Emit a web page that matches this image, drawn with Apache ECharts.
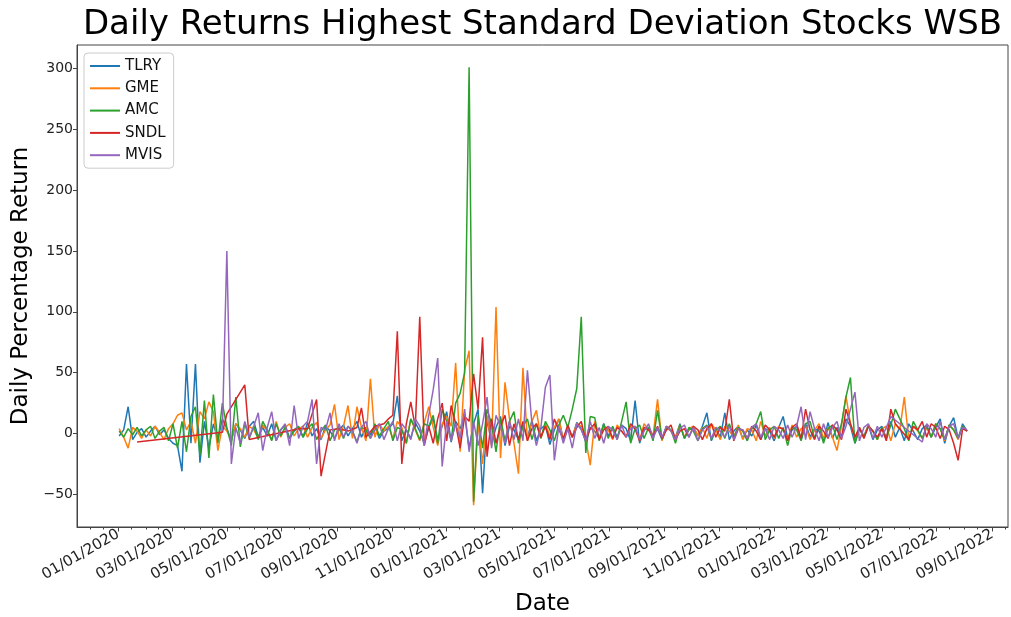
<!DOCTYPE html>
<html>
<head>
<meta charset="utf-8">
<script src="https://cdn.jsdelivr.net/npm/echarts@6/dist/echarts.min.js"></script>
<style>html,body{margin:0;padding:0;background:#fff}#c{width:1011px;height:617px}</style>
</head>
<body>
<div id="c"></div>
<script>
// ---- data ----
// regular sampling grid: one sample every 5 days starting 2020-01-02
const startDate = Date.UTC(2020, 0, 2);
const stepDays = 5;

const seriesNames = ['TLRY', 'GME', 'AMC', 'SNDL', 'MVIS'];
const seriesColors = ['#1f77b4', '#ff7f0e', '#2ca02c', '#d62728', '#9467bd'];

const tlry = [
  -2, 3, 22, -5, 1, 4, -3, 2, 6, -1,
  3, -4, -8, -10, -31, 57, -8, 57, -24, 10,
  -12, 8, -5, 12, 4, -6, 8, 3, -4, 6,
  10, -3, 5, -2, 8, -6, 3, 7, -4, 2,
  5, -3, 9, -2, 4, -5, 6, 2, -4, 3,
  7, -2, 4, 10, -3, 5, -1, 6, -4, 2,
  4, 8, 31, -6, 3, -4, 9, 2, -8, 5,
  12, -5, 6, 18, -7, 10, 4, 15, -12, 8,
  20, -49, 12, -8, 5, 14, -10, 6, 3, -5,
  8, -4, 11, -6, 4, 7, -9, 3, 12, -5,
  6, -3, 9, 4, -7, 5, 2, -4, 8, -2,
  5, -3, 7, 4, -6, 27, -8, 3, 5, -2,
  4, -5, 6, 2, -3, 8, -4, 3, 5, -2,
  6, 17, -6, 4, -3, 17, -5, 2, 6, -4,
  3, -2, 7, -5, 4, 2, -6, 5, 14, -4,
  3, 6, -5, 8, -3, 4, 2, -6, 9, -4,
  5, -3, 12, 6, -8, 4, -2, 7, -5, 3,
  6, -4, 10, -3, 5, -6, 8, 2, -5, 4,
  7, -3, 5, 12, -8, 6, 13, -4, 8, 2
];

const gme = [
  4, -3, -12, 5, 2, -4, 3, -2, 6, 1,
  -5, 4, 8, 15, 17, 3, 10, -8, 18, 12,
  26, 18, -14, 6, 2, -5, 8, 4, -3, 6,
  3, -4, 7, 2, -5, 10, -3, 5, 8, -2,
  4, 6, -3, 5, 9, -4, 3, 7, 24, -5,
  6, 23, -4, 22, 5, -6, 45, -3, 8, 2,
  6, -4, 10, 5, -8, 12, 3, -6, 9, 22,
  5, -10, 8, 14, 6, 58, -15, 52, 68, -59,
  10, -25, 15, -10, 104, -20, 42, 12, -8, -33,
  54, -6, 10, 19, -4, 8, -2, 5, 12, -6,
  4, -3, 8, 6, -5, -26, 10, -4, 6, 3,
  -5, 7, 2, -3, 6, 4, -6, 8, 3, -2,
  28, -6, 5, 2, -4, 7, -3, 4, 6, -2,
  5, -4, 8, 3, -5, 6, 2, -3, 7, -5,
  4, 3, -6, 10, -2, 5, -4, 6, 3, -5,
  7, -3, 4, 6, -5, 3, 8, -4, 5, -3,
  -14, 6, 31, 8, -4, 5, -3, 7, 2, -5,
  4, 6, -6, 8, 3, 30, -5, 6, 2, -4,
  5, -3, 8, 4, -6, 7, 3, -5, 6, 2
];

const amc = [
  2, -3, 4, -1, 5, -2, 3, 6, -4, 2,
  5, -6, 8, -12, 10, -15, 14, 22, -18, 27,
  -20, 32, -8, 25, 5, -10, 30, -11, 8, -4,
  6, -5, 10, 3, -6, 8, -2, 5, -4, 3,
  6, -3, 4, 8, -5, 2, 7, -6, 3, 5,
  -4, 6, 2, -7, 5, 3, -4, 8, -2, 4,
  10, -6, 5, 3, -8, 12, 4, -5, 8, 6,
  15, -8, 20, 10, -6, 25, 33, 50, 301, -56,
  15, -12, 20, 8, -15, 12, -6, 10, 18, -8,
  6, 12, -5, 8, -4, 10, 3, -6, 7, 15,
  5, 20, 37, 96, -16, 14, 13, -6, 8, -4,
  6, -5, 10, 26, -8, 4, 7, -4, 5, -6,
  19, -5, 6, 3, -8, 7, -4, 5, 2, -6,
  4, 7, -5, 3, 6, -4, 8, -3, 5, 2,
  -6, 4, 8, 18, -5, 3, 6, -4, 5, -10,
  5, 3, -6, 8, 10, -4, 6, -8, 4, 7,
  -5, 8, 30, 46, -8, 4, -3, 6, 2, -5,
  5, -4, 7, 20, 12, 4, -6, 10, 3, -4,
  6, -3, 8, 4, -5, 7, 3, -4, 6, 2
];

const sndl = [
  null, null, null, null, -7, null, null, null, null, null,
  null, null, null, null, null, null, null, null, null, null,
  null, null, null, 1, 16, null, null, null, 40, -5,
  null, null, null, null, null, null, null, null, null, null,
  4, null, 4, null, 28, -35, null, 3, null, 4,
  null, 2, null, 5, 21, -3, null, 6, null, 8,
  12, 15, 84, -25, 8, 26, 5, 96, -10, 6,
  -8, 12, 25, -6, 23, 8, -12, 14, 10, 49,
  20, 79, -19, 12, -8, 6, 15, -10, 8, -5,
  10, -6, 4, 8, -3, 6, -5, 12, 3, -4,
  7, -3, 5, 10, -6, 4, 8, -5, 3, 6,
  -4, 5, 2, -3, 8, 4, -6, 5, 3, -2,
  6, -4, 3, 7, -5, 2, 4, -3, 6, 3,
  -5, 4, 8, -3, 5, 2, 28, -6, 4, 3,
  -4, 6, 2, -5, 7, 3, -3, 5, 4, -6,
  5, 8, -4, 20, 3, -5, 6, 2, -4, 7,
  3, -5, 20, 8, -3, 5, -4, 6, 2, -3,
  4, -6, 20, 8, null, null, -5, 6, 3, 10,
  -3, 8, 5, -4, 6, 3, -8, -22, 4, 2
];

const mvis = [
  null, null, null, null, null, null, null, null, null, null,
  null, null, null, null, null, null, null, null, null, null,
  null, null, null, 2, 150, -25, 5, -8, 10, -3,
  6, 17, -14, 5, 18, -6, 3, 8, -10, 23,
  -4, 6, 10, 28, -25, 5, 3, 17, -6, 8,
  -3, 6, 2, -8, 5, 10, -4, 3, 8, -5,
  4, 10, -6, 8, 3, -5, 12, 6, -10, 15,
  36, 62, -27, 10, -6, 8, -4, 20, -15, 10,
  -10, 8, 30, -12, 15, 6, -8, 10, -5, 12,
  -6, 52, 8, -10, 5, 38, 48, -22, 6, -8,
  4, -12, 8, 3, -6, 10, -4, 5, -8, 6,
  3, -5, 7, -3, 4, 6, -5, 2, 8, -4,
  5, -3, 6, 2, -5, 4, 7, -3, 5, -6,
  3, 6, -4, 5, 2, -3, 6, -5, 4, 3,
  -4, 5, 8, -3, 4, -5, 6, 3, -4, 7,
  -3, 6, 22, -5, 18, 4, -6, 8, -3, 5,
  10, -4, 6, 20, 34, -6, 5, 8, -4, 6,
  -3, 5, 14, null, null, null, null, null, null, -7,
  8, 4, -3, 10, -5, 6, 8, -4, 5, 3
];

const yTicks = [-50, 0, 50, 100, 150, 200, 250, 300];
const yMin = -76.8, yMax = 319.2;

// ---- axis helpers ----
const DAY = 86400000;
const xMin = Date.UTC(2019, 10, 16);
const xMax = Date.UTC(2022, 8, 18, 14);
const majorTicks = [];
const minorTicks = [];
for (let y = 2019; y <= 2022; y++) {
  for (let m = 0; m < 12; m++) {
    const d1 = Date.UTC(y, m, 1), d15 = Date.UTC(y, m, 15);
    if (d1 >= xMin && d1 <= xMax) { if (m % 2 === 0) majorTicks.push(d1); else minorTicks.push(d1); }
    if (d15 >= xMin && d15 <= xMax) minorTicks.push(d15);
  }
}
function fmtDate(v) {
  const d = new Date(v);
  const p = n => (n < 10 ? '0' : '') + n;
  return p(d.getUTCMonth() + 1) + '/' + p(d.getUTCDate()) + '/' + d.getUTCFullYear();
}
const allValues = [tlry, gme, amc, sndl, mvis];

const chart = echarts.init(document.getElementById('c'), null, { renderer: 'canvas' });
const FONT = 'DejaVu Sans';
chart.setOption({
  animation: false,
  backgroundColor: '#fff',
  textStyle: { fontFamily: FONT },
  graphic: [{
    type: 'text', x: 542.5, y: 8,
    style: { text: 'Daily Returns Highest Standard Deviation Stocks WSB', fontFamily: FONT, fontSize: 34, fill: '#000', textAlign: 'center', textVerticalAlign: 'top' }
  }],
  legend: {
    left: 84, top: 53, orient: 'vertical',
    icon: 'rect', itemWidth: 30, itemHeight: 2, itemGap: 6.3, itemTextGap: 17,
    padding: [5, 8, 5, 6],
    backgroundColor: 'rgba(255,255,255,0.8)', borderColor: '#cccccc', borderWidth: 1, borderRadius: 4,
    textStyle: { fontFamily: FONT, fontSize: 15, color: '#111', lineHeight: 16 },
    data: seriesNames
  },
  grid: { left: 77, top: 45, width: 931, height: 482, show: true, borderColor: '#444', borderWidth: 1,
    backgroundColor: 'transparent', containLabel: false, outerBoundsMode: 'none' },
  xAxis: [{
    type: 'value', min: xMin, max: xMax,
    name: 'Date', nameLocation: 'middle', nameGap: 66,
    nameTextStyle: { fontFamily: FONT, fontSize: 23, color: '#000' },
    axisLine: { show: true, onZero: false, lineStyle: { color: '#444' } },
    axisTick: { show: true, length: 4.5, lineStyle: { color: '#444' }, customValues: majorTicks },
    axisLabel: { show: true, rotate: 30, margin: 6, fontFamily: FONT, fontSize: 15, color: '#222', customValues: majorTicks, formatter: fmtDate },
    splitLine: { show: false }
  }, {
    type: 'value', min: xMin, max: xMax, position: 'bottom',
    axisLine: { show: false, onZero: false },
    axisTick: { show: true, length: 2.5, lineStyle: { color: '#444' }, customValues: minorTicks },
    axisLabel: { show: false },
    splitLine: { show: false }
  }],
  yAxis: {
    type: 'value', min: yMin, max: yMax,
    name: 'Daily Percentage Return', nameLocation: 'middle', nameGap: 44,
    nameTextStyle: { fontFamily: FONT, fontSize: 23, color: '#000' },
    axisLine: { show: true, onZero: false, lineStyle: { color: '#444' } },
    axisTick: { show: true, length: 4, lineStyle: { color: '#444' }, customValues: yTicks },
    axisLabel: { show: true, margin: 4, fontFamily: FONT, fontSize: 14, color: '#222', customValues: yTicks,
      formatter: v => (v < 0 ? '\u2212' + Math.abs(v) : String(v)) },
    splitLine: { show: false }
  },
  series: seriesNames.map((name, k) => ({
    name, type: 'line', xAxisIndex: 0,
    data: allValues[k].map((v, i) => [startDate + i * stepDays * DAY, v]),
    showSymbol: false, symbol: 'none', connectNulls: true,
    lineStyle: { width: 1.5, color: seriesColors[k] },
    itemStyle: { color: seriesColors[k] },
    emphasis: { disabled: true }
  }))
});
</script>
</body>
</html>
